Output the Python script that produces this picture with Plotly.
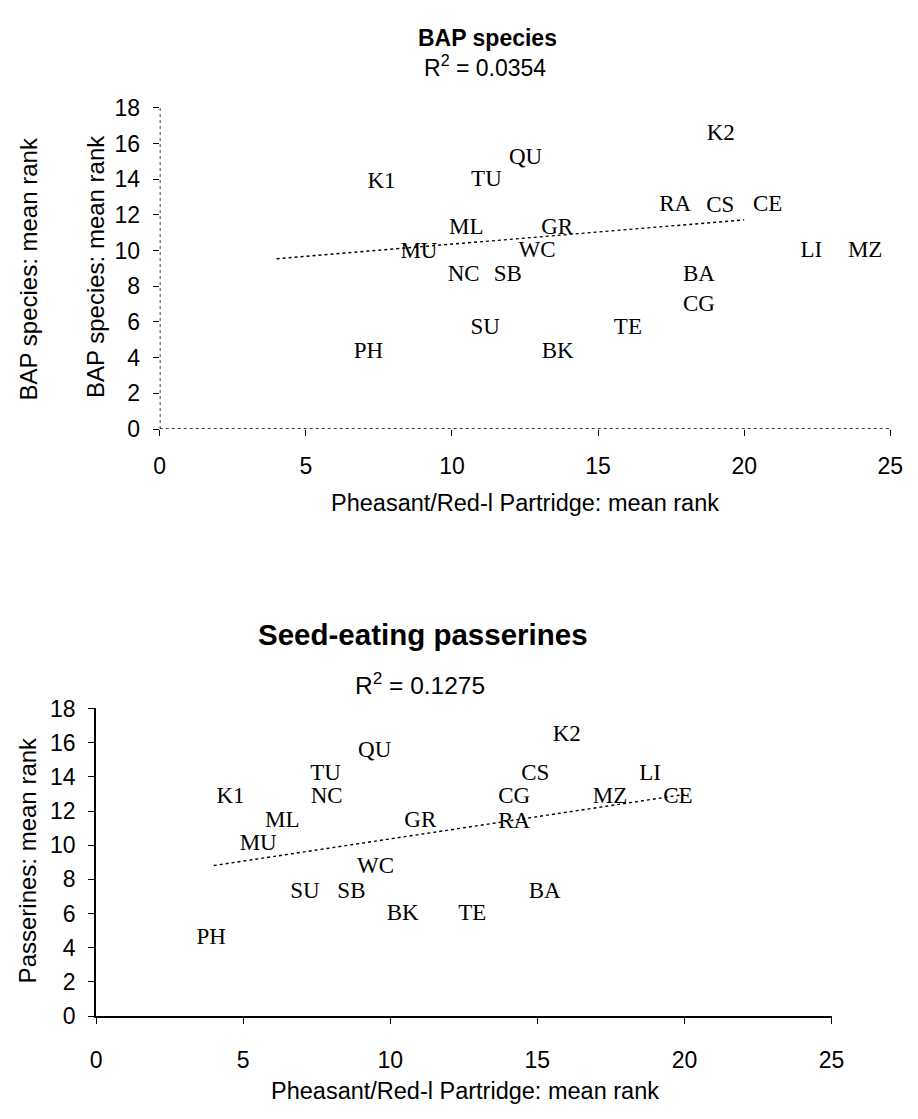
import plotly.graph_objects as go

# ---- data -------------------------------------------------------------
# Site codes (label text) and label positions for the BAP species panel
bap_sites = ["PH", "K1", "MU", "ML", "NC", "TU", "SU", "SB", "QU", "WC", "GR",
             "BK", "TE", "RA", "BA", "CG", "K2", "CS", "CE", "LI", "MZ"]
bap_x = [7.14, 7.59, 8.87, 10.49, 10.40, 11.18, 11.14, 11.91, 12.52, 12.91, 13.60,
         13.62, 16.02, 17.64, 18.45, 18.45, 19.20, 19.18, 20.80, 22.30, 24.14]
bap_y = [4.30, 13.85, 9.92, 11.27, 8.64, 13.93, 5.63, 8.64, 15.15, 9.95, 11.27,
         4.30, 5.63, 12.56, 8.64, 6.95, 16.50, 12.50, 12.56, 9.95, 9.95]

# Site codes and label positions for the seed-eating passerines panel
pas_sites = ["PH", "K1", "MU", "ML", "SU", "TU", "NC", "SB", "QU", "WC", "BK",
             "GR", "TE", "CG", "RA", "CS", "BA", "K2", "MZ", "LI", "CE"]
pas_x = [3.91, 4.57, 5.51, 6.33, 7.10, 7.80, 7.84, 8.68, 9.47, 9.50, 10.42,
         11.02, 12.79, 14.21, 14.21, 14.93, 15.25, 16.00, 17.47, 18.83, 19.78]
pas_y = [4.55, 12.80, 10.07, 11.41, 7.27, 14.17, 12.80, 7.27, 15.50, 8.70, 5.94,
         11.41, 5.94, 12.80, 11.35, 14.17, 7.27, 16.46, 12.80, 14.17, 12.80]

# Linear trend lines: span of x, slope, intercept and R^2
trend_x = [4, 20]
bap_slope, bap_intercept, bap_r2 = 0.136, 9.0, 0.0354
pas_slope, pas_intercept, pas_r2 = 0.26, 7.77, 0.1275

x_ticks = [0, 5, 10, 15, 20, 25]
y_ticks = [0, 2, 4, 6, 8, 10, 12, 14, 16, 18]

# ---- layout helpers ---------------------------------------------------
W, H = 918, 1119
SANS = "Liberation Sans, Arial, sans-serif"
SERIF = "Liberation Serif, Times New Roman, serif"


def px(x):
    return x / W


def py(y):
    return 1 - y / H


fig = go.Figure()

# Text-only scatter for each panel, plus its dotted linear trend line
fig.add_trace(go.Scatter(x=bap_x, y=bap_y, text=bap_sites, mode="text",
                         textposition="middle center",
                         textfont=dict(family=SERIF, size=23, color="black"),
                         xaxis="x", yaxis="y", showlegend=False, hoverinfo="text"))
fig.add_trace(go.Scatter(x=trend_x, y=[bap_slope * v + bap_intercept for v in trend_x],
                         mode="lines", line=dict(color="black", width=1.4, dash="dot"),
                         xaxis="x", yaxis="y", showlegend=False, hoverinfo="skip"))

fig.add_trace(go.Scatter(x=pas_x, y=pas_y, text=pas_sites, mode="text",
                         textposition="middle center",
                         textfont=dict(family=SERIF, size=23, color="black"),
                         xaxis="x2", yaxis="y2", showlegend=False, hoverinfo="text"))
fig.add_trace(go.Scatter(x=trend_x, y=[pas_slope * v + pas_intercept for v in trend_x],
                         mode="lines", line=dict(color="black", width=1.4, dash="dot"),
                         xaxis="x2", yaxis="y2", showlegend=False, hoverinfo="skip"))

tick_font = dict(family=SANS, size=23, color="black")
axis_common = dict(showgrid=False, zeroline=False, ticks="outside", ticklen=6,
                   tickwidth=1.4, tickcolor="black", tickfont=tick_font, fixedrange=True)

fig.update_layout(
    width=W, height=H,
    margin=dict(l=0, r=0, t=0, b=0),
    paper_bgcolor="white", plot_bgcolor="white",
    xaxis=dict(domain=[px(157), px(903)], range=[0, 25], tickvals=x_ticks,
               anchor="y", showline=False, ticklabelstandoff=10, **axis_common),
    yaxis=dict(domain=[py(426), py(97)], range=[0, 18], tickvals=y_ticks,
               anchor="x", showline=False, ticklabelstandoff=8, **axis_common),
    xaxis2=dict(domain=[px(92), px(843)], range=[0, 25], tickvals=x_ticks,
                anchor="y2", showline=True, linecolor="black", linewidth=2,
                ticklabelstandoff=16, **axis_common),
    yaxis2=dict(domain=[py(1027), py(712)], range=[0, 18], tickvals=y_ticks,
                anchor="x2", showline=True, linecolor="black", linewidth=2,
                ticklabelstandoff=8, **axis_common),
)

# Dotted axis lines of the upper panel
fig.add_shape(type="line", xref="x", yref="y", x0=0, x1=25, y0=0, y1=0,
              line=dict(color="black", width=1.5, dash="dot"))
fig.add_shape(type="line", xref="x", yref="y", x0=0, x1=0, y0=0, y1=18,
              line=dict(color="black", width=1.5, dash="dot"))

ann = []


def text(x, y, s, size, bold=False, angle=0):
    font = dict(family=SANS, size=size, color="black")
    if bold:
        font["weight"] = "bold"
    ann.append(dict(x=px(x), y=py(y), xref="paper", yref="paper", text=s,
                    showarrow=False, xanchor="center", yanchor="middle",
                    textangle=angle, font=font))


# Upper panel titles
text(492, 26, "BAP species", 23, bold=True)
text(489, 54, f"R<sup>2</sup> = {bap_r2:.4f}", 23)
text(530, 502, "Pheasant/Red-l Partridge: mean rank", 23.5)
text(23, 262, "BAP species: mean rank", 24, angle=-90)
text(92, 260, "BAP species: mean rank", 24, angle=-90)

# Lower panel titles
text(426, 636, "Seed-eating passerines", 29.5, bold=True)
text(423, 686, f"R<sup>2</sup> = {pas_r2:.4f}", 24.5)
text(469, 1104, "Pheasant/Red-l Partridge: mean rank", 23.5)
text(22, 868, "Passerines: mean rank", 24, angle=-90)

fig.update_layout(annotations=ann)

fig.write_html("out.html")
